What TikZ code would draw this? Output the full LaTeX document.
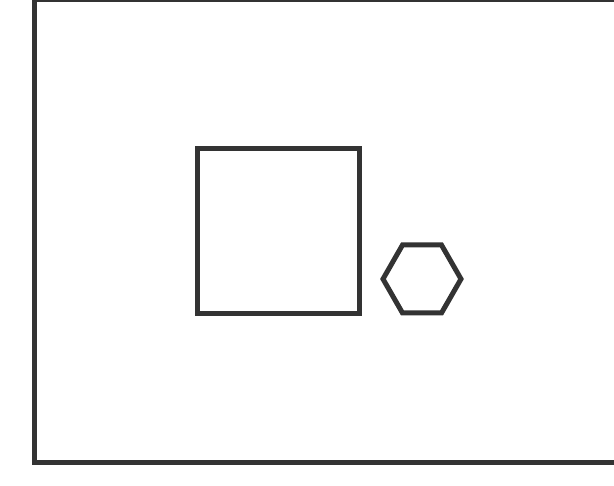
\documentclass[tikz,border=0pt]{standalone}
\begin{document}
\begin{tikzpicture}[x=1pt,y=-1pt,
  outline/.style={draw=black!80,line width=5pt,line join=miter}]
\useasboundingbox (0,0) rectangle (614,486);
\clip (0,0) rectangle (614,486);
% outer frame
\draw[outline] (34.5,-0.5) rectangle (616,463);
% square
\draw[outline] (197.5,148.5) rectangle (359.5,313.5);
% hexagon
\draw[outline] (383,279) -- (402.5,245) -- (441.5,245) -- (461,279) -- (441.5,313) -- (402.5,313) -- cycle;
\end{tikzpicture}
\end{document}
